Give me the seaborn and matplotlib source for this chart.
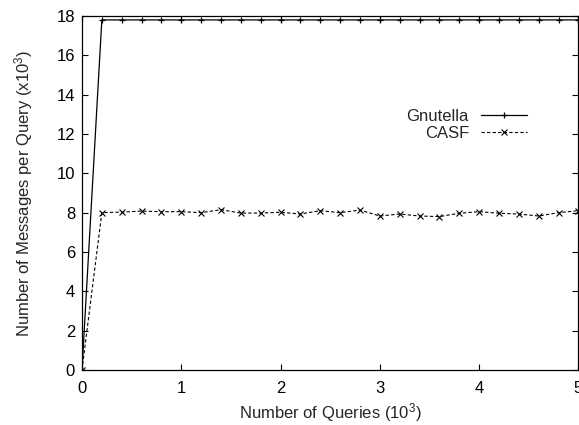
import matplotlib
matplotlib.use("Agg")
import pandas as pd
import seaborn as sns
from matplotlib import pyplot as plt

# Number of queries (x10^3)
queries = [0.0, 0.2, 0.4, 0.6, 0.8, 1.0, 1.2, 1.4, 1.6, 1.8, 2.0, 2.2, 2.4,
           2.6, 2.8, 3.0, 3.2, 3.4, 3.6, 3.8, 4.0, 4.2, 4.4, 4.6, 4.8, 5.0]

# Messages per query (x10^3)
gnutella = [0.0, 17.8, 17.8, 17.8, 17.8, 17.8, 17.8, 17.8, 17.8, 17.8, 17.8,
            17.8, 17.8, 17.8, 17.8, 17.8, 17.8, 17.8, 17.8, 17.8, 17.8, 17.8,
            17.8, 17.8, 17.8, 17.8]
casf = [0.0, 8.0, 8.03, 8.08, 8.05, 8.05, 8.0, 8.15, 7.98, 7.98, 8.02, 7.93,
        8.1, 8.0, 8.13, 7.83, 7.93, 7.83, 7.8, 7.97, 8.05, 7.97, 7.93, 7.83,
        8.0, 8.1]

x_ticks = [0, 1, 2, 3, 4, 5]
y_ticks = [0, 2, 4, 6, 8, 10, 12, 14, 16, 18]

data = pd.DataFrame({"queries": queries, "Gnutella": gnutella, "CASF": casf})

sns.set_style("ticks")
plt.rcParams["font.family"] = ["Liberation Sans", "DejaVu Sans"]
plt.rcParams["mathtext.fontset"] = "custom"
plt.rcParams["mathtext.rm"] = "Liberation Sans"
plt.rcParams["mathtext.it"] = "Liberation Sans"

fs = 12

fig, ax = plt.subplots(
    figsize=(5.79, 4.25),
    dpi=100,
    gridspec_kw=dict(left=0.1416, right=0.999, bottom=0.1294, top=0.9624),
)

# seaborn sets a white marker edge by default, so force black edges
sns.lineplot(data=data, x="queries", y="Gnutella", ax=ax, color="black",
             lw=0.9, marker="+", markersize=5, mew=0.9, mec="black",
             label="Gnutella")
sns.lineplot(data=data, x="queries", y="CASF", ax=ax, color="black",
             lw=0.8, linestyle=(0, (3, 2)), marker="x", markersize=3.8,
             mew=0.8, mec="black", label="CASF")

ax.set_xlim(0, 5)
ax.set_ylim(0, 18)
ax.set_xticks(x_ticks)
ax.set_yticks(y_ticks)
ax.tick_params(direction="in", length=4, width=0.8, top=True, right=True,
               labelsize=fs, colors="black")
ax.tick_params(axis="x", pad=8)
ax.tick_params(axis="y", pad=5)
for s in ax.spines.values():
    s.set_linewidth(0.9)
    s.set_color("black")

ax.set_xlabel("Number of Queries (10$^3$)", fontsize=fs)
ax.set_ylabel("Number of Messages per Query (x10$^3$)", fontsize=fs)
ax.xaxis.set_label_coords(0.5, -0.088)
ax.yaxis.set_label_coords(-0.094, 0.5)

leg = ax.legend(
    loc="upper right",
    bbox_to_anchor=(0.897, 0.737),
    frameon=False,
    markerfirst=False,
    fontsize=fs,
    handlelength=2.8,
    handletextpad=0.7,
    labelspacing=0.1,
    borderpad=0,
    borderaxespad=0,
)
for col in leg._legend_box.get_children()[1].get_children():
    col.align = "right"

plt.savefig("out.png", dpi=100)
